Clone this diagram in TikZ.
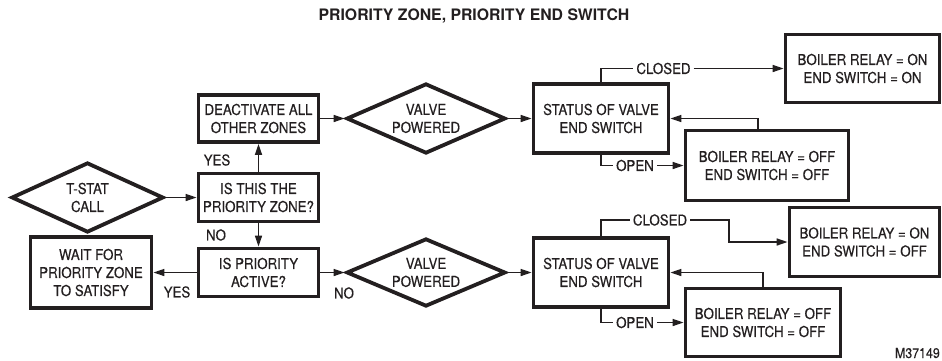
\documentclass[tikz,border=0pt]{standalone}
\usepackage{fontspec}
\setmainfont{TeX Gyre Heros}[UprightFeatures={FakeBold=0.4,FakeStretch=0.885}]
\usetikzlibrary{shapes.geometric,arrows.meta}
\definecolor{ink}{RGB}{35,31,32}
\begin{document}
\spaceskip=5.6pt\relax
\begin{tikzpicture}[x=1pt,y=-1pt,
  font=\fontsize{15}{18}\selectfont,
  box/.style={draw=ink, line width=3.8pt, rectangle, align=center, inner sep=0pt, text=ink},
  dia/.style={draw=ink, line width=3.8pt, diamond, aspect=2, align=center, inner sep=0pt, text=ink},
  conn/.style={draw=ink, line width=1.6pt},
  arr/.style={conn, -{Triangle[length=11pt,width=7pt]}},
  lbl/.style={text=ink, inner sep=0pt},
]
\useasboundingbox (0,0) rectangle (942,360);

\node[text=ink, font=\bfseries\fontsize{15.8}{18}\selectfont] (title) at (474,16) {\spaceskip=0pt\relax PRIORITY ZONE, PRIORITY END SWITCH};

\node[dia, minimum width=152pt, minimum height=70pt] (tstat) at (87.5,197.5) {T-STAT\\CALL};
\node[box, minimum width=120pt, minimum height=48pt] (isthis) at (258.5,197.5) {IS THIS THE\\PRIORITY ZONE?};
\node[box, minimum width=120pt, minimum height=47pt] (deact) at (258.5,118.5) {DEACTIVATE ALL\\OTHER ZONES};
\node[box, minimum width=120pt, minimum height=48pt] (isprio) at (258.5,272.5) {IS PRIORITY\\ACTIVE?};
\node[box, minimum width=121pt, minimum height=71pt] (wait) at (91,272.5) {WAIT FOR\\PRIORITY ZONE\\TO SATISFY};
\node[dia, minimum width=159pt, minimum height=70pt] (vpa) at (426,118.5) {VALVE\\POWERED};
\node[dia, minimum width=159pt, minimum height=68pt] (vpb) at (426,272.5) {VALVE\\POWERED};
\node[box, minimum width=135pt, minimum height=69pt] (sta) at (601,118.5) {STATUS OF VALVE\\END SWITCH};
\node[box, minimum width=135pt, minimum height=69pt] (stb) at (601,272.5) {STATUS OF VALVE\\END SWITCH};
\node[box, minimum width=154pt, minimum height=68pt] (ona) at (862.5,68.5) {BOILER RELAY = ON\\END SWITCH = ON};
\node[box, minimum width=163pt, minimum height=70pt] (offa) at (767,165.5) {BOILER RELAY = OFF\\END SWITCH = OFF};
\node[box, minimum width=150pt, minimum height=69pt] (onb) at (864.5,242) {BOILER RELAY = ON\\END SWITCH = OFF};
\node[box, minimum width=155pt, minimum height=68pt] (offb) at (763,322.5) {BOILER RELAY = OFF\\END SWITCH = OFF};

\node[lbl] (yes1) at (217,160) {YES};
\node[lbl] (no1) at (216,235) {NO};
\node[lbl] (yes2) at (177,292) {YES};
\node[lbl] (no2) at (344,293) {NO};
\node[lbl, inner sep=3pt] (ca) at (663.5,68.5) {CLOSED};
\node[lbl, inner sep=3pt] (oa) at (635,165.5) {OPEN};
\node[lbl, inner sep=3pt] (cb) at (660,220) {CLOSED};
\node[lbl, inner sep=3pt] (ob) at (635,322.5) {OPEN};
\coordinate (kb) at (729,220);
\node[lbl, anchor=east, font=\fontsize{14}{15}\selectfont] (mnum) at (940,353) {M37149};

\draw[arr] (tstat.east) -- (isthis.west);
\draw[arr] (isthis.north) -- (deact.south);
\draw[arr] (isthis.south) -- (isprio.north);
\draw[arr] (isprio.west) -- (wait.east);
\draw[arr] (isprio.east) -- (vpb.west);
\draw[arr] (deact.east) -- (vpa.west);
\draw[arr] (vpa.east) -- (sta.west);
\draw[arr] (vpb.east) -- (stb.west);
\draw[conn] (sta.north) |- (ca.west);
\draw[arr] (ca.east) -- (ona.west);
\draw[conn] (sta.south) |- (oa.west);
\draw[arr] (oa.east) -- (offa.west);
\draw[arr] ([xshift=-9pt]offa.north) |- (sta.east);
\draw[conn] (stb.north) |- (cb.west);
\draw[arr] (cb.east) -- (kb) |- (onb.west);
\draw[conn] (stb.south) |- (ob.west);
\draw[arr] (ob.east) -- (offb.west);
\draw[arr] (offb.north) |- (stb.east);
\end{tikzpicture}
\end{document}
